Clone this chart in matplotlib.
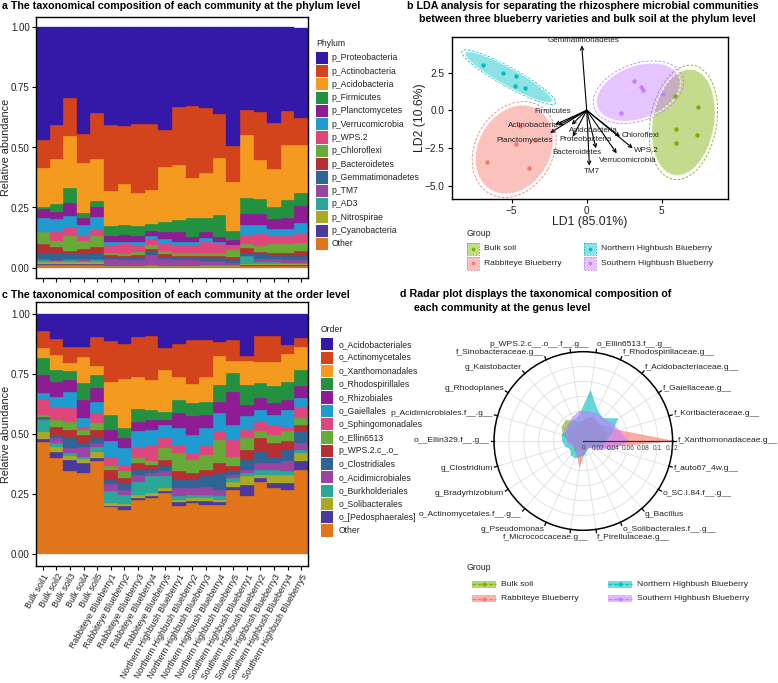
import numpy as np
import matplotlib
matplotlib.use('Agg')
import matplotlib.pyplot as plt
from matplotlib.patches import Rectangle, Ellipse

plt.rcParams['font.family'] = ['Liberation Sans', 'DejaVu Sans']

W, H = 778, 683

# ---------------- data ----------------
samples = ['Bulk soil1', 'Bulk soil2', 'Bulk soil3', 'Bulk soil4', 'Bulk soil5',
           'Rabbiteye Blueberry1', 'Rabbiteye Blueberry2', 'Rabbiteye Blueberry3',
           'Rabbiteye Blueberry4', 'Rabbiteye Blueberry5',
           'Northern Highbush Blueberry1', 'Northern Highbush Blueberry2',
           'Northern Highbush Blueberry3', 'Northern Highbush Blueberry4',
           'Northern Highbush Blueberry5',
           'Southern Highbush Blueberry1', 'Southern Highbush Blueberry2',
           'Southern Highbush Blueberry3', 'Southern Highbush Blueberry4',
           'Southern Highbush Blueberry5']

# phylum level (legend order, top of stack first)
phylum_names = ['p_Proteobacteria', 'p_Actinobacteria', 'p_Acidobacteria', 'p_Firmicutes',
                'p_Planctomycetes', 'p_Verrucomicrobia', 'p_WPS.2', 'p_Chloroflexi',
                'p_Bacteroidetes', 'p_Gemmatimonadetes', 'p_TM7', 'p_AD3',
                'p_Nitrospirae', 'p_Cyanobacteria', 'Other']
p_proteobacteria = [0.469, 0.409, 0.295, 0.445, 0.358, 0.406, 0.41, 0.403, 0.40, 0.427,
                    0.333, 0.327, 0.333, 0.358, 0.492, 0.344, 0.35, 0.397, 0.35, 0.379]
p_actinobacteria = [0.115, 0.139, 0.16, 0.124, 0.19, 0.274, 0.243, 0.287, 0.277, 0.153,
                    0.24, 0.301, 0.272, 0.184, 0.15, 0.107, 0.20, 0.193, 0.14, 0.111]
p_acidobacteria = [0.162, 0.187, 0.222, 0.209, 0.175, 0.149, 0.169, 0.139, 0.141, 0.229,
                   0.229, 0.167, 0.19, 0.239, 0.204, 0.263, 0.164, 0.159, 0.228, 0.201]
p_firmicutes = [0.009, 0.036, 0.062, 0.021, 0.026, 0.038, 0.042, 0.038, 0.029, 0.045,
                0.05, 0.076, 0.055, 0.09, 0.039, 0.067, 0.063, 0.05, 0.077, 0.051]
p_planctomycetes = [0.037, 0.028, 0.053, 0.03, 0.043, 0.025, 0.028, 0.025, 0.02, 0.028,
                    0.04, 0.021, 0.028, 0.021, 0.018, 0.046, 0.045, 0.041, 0.045, 0.071]
p_verrucomicrobia = [0.058, 0.055, 0.048, 0.044, 0.048, 0.014, 0.008, 0.014, 0.014, 0.018,
                     0.014, 0.014, 0.014, 0.008, 0.007, 0.04, 0.038, 0.027, 0.027, 0.047]
p_wps2 = [0.002, 0.036, 0.038, 0.021, 0.03, 0.034, 0.043, 0.028, 0.025, 0.03,
          0.034, 0.034, 0.048, 0.037, 0.017, 0.039, 0.052, 0.033, 0.033, 0.036]
p_chloroflexi = [0.048, 0.025, 0.062, 0.036, 0.045, 0.007, 0.007, 0.014, 0.014, 0.015,
                 0.01, 0.01, 0.01, 0.013, 0.028, 0.019, 0.023, 0.04, 0.04, 0.034]
p_bacteroidetes = [0.04, 0.027, 0.015, 0.02, 0.025, 0.008, 0.008, 0.01, 0.01, 0.01,
                   0.008, 0.01, 0.008, 0.008, 0.01, 0.02, 0.01, 0.01, 0.012, 0.02]
p_gemmatimonadetes = [0.025, 0.028, 0.02, 0.02, 0.025, 0.01, 0.01, 0.01, 0.015, 0.01,
                      0.012, 0.01, 0.012, 0.012, 0.015, 0.01, 0.02, 0.015, 0.018, 0.02]
p_tm7 = [0.005, 0.005, 0.005, 0.01, 0.007, 0.027, 0.024, 0.024, 0.045, 0.027,
         0.022, 0.022, 0.02, 0.02, 0.008, 0.003, 0.01, 0.013, 0.01, 0.01]
p_ad3 = [0.008, 0.005, 0.008, 0.005, 0.008, 0.002, 0.002, 0.002, 0.003, 0.002,
         0.002, 0.002, 0.003, 0.003, 0.004, 0.032, 0.01, 0.007, 0.005, 0.005]
p_nitrospirae = [0.006, 0.006, 0.006, 0.006, 0.006, 0.002, 0.002, 0.002, 0.002, 0.002,
                 0.002, 0.002, 0.002, 0.002, 0.002, 0.005, 0.005, 0.005, 0.005, 0.005]
p_cyanobacteria = [0.004, 0.004, 0.004, 0.004, 0.004, 0.002, 0.002, 0.002, 0.002, 0.002,
                   0.002, 0.002, 0.002, 0.002, 0.002, 0.004, 0.004, 0.004, 0.004, 0.004]
p_other = [0.012, 0.012, 0.012, 0.012, 0.012, 0.002, 0.002, 0.002, 0.002, 0.002,
           0.002, 0.002, 0.002, 0.002, 0.002, 0.006, 0.006, 0.006, 0.006, 0.006]

# order level (legend order, top of stack first)
order_names = ['o_Acidobacteriales', 'o_Actinomycetales', 'o_Xanthomonadales',
               'o_Rhodospirillales', 'o_Rhizobiales', 'o_Gaiellales', 'o_Sphingomonadales',
               'o_Ellin6513', 'p_WPS.2.c_.o_', 'o_Clostridiales', 'o_Acidimicrobiales',
               'o_Burkholderiales', 'o_Solibacterales', 'o_[Pedosphaerales]', 'Other']
o_acidobacteriales = [0.07, 0.104, 0.139, 0.139, 0.094, 0.111, 0.125, 0.094, 0.091, 0.143,
                      0.125, 0.11, 0.11, 0.115, 0.11, 0.175, 0.09, 0.09, 0.129, 0.099]
o_actinomycetales = [0.07, 0.067, 0.066, 0.039, 0.122, 0.171, 0.147, 0.169, 0.184, 0.09,
                     0.136, 0.181, 0.153, 0.06, 0.086, 0.021, 0.11, 0.11, 0.039, 0.037]
o_xanthomonadales = [0.044, 0.062, 0.031, 0.11, 0.038, 0.138, 0.204, 0.134, 0.125, 0.174,
                     0.097, 0.081, 0.102, 0.12, 0.051, 0.099, 0.088, 0.102, 0.114, 0.097]
o_rhodospirillales = [0.07, 0.049, 0.038, 0.07, 0.056, 0.063, 0.041, 0.055, 0.041, 0.034,
                      0.055, 0.055, 0.055, 0.07, 0.076, 0.083, 0.062, 0.07, 0.076, 0.067]
o_rhizobiales = [0.076, 0.062, 0.049, 0.076, 0.055, 0.048, 0.042, 0.037, 0.042, 0.021,
                 0.063, 0.076, 0.056, 0.048, 0.139, 0.049, 0.049, 0.048, 0.041, 0.051]
o_gaiellales = [0.025, 0.042, 0.07, 0.035, 0.048, 0.063, 0.069, 0.07, 0.062, 0.055,
                0.069, 0.077, 0.076, 0.076, 0.062, 0.056, 0.049, 0.042, 0.07, 0.035]
o_sphingomonadales = [0.065, 0.055, 0.055, 0.014, 0.042, 0.039, 0.028, 0.041, 0.069, 0.042,
                      0.035, 0.028, 0.035, 0.035, 0.07, 0.034, 0.041, 0.041, 0.02, 0.048]
o_ellin6513 = [0.008, 0.028, 0.035, 0.02, 0.028, 0.019, 0.028, 0.022, 0.014, 0.048,
               0.076, 0.055, 0.062, 0.098, 0.041, 0.049, 0.028, 0.035, 0.042, 0.028]
o_wps2 = [0.006, 0.034, 0.034, 0.035, 0.034, 0.039, 0.021, 0.027, 0.021, 0.025,
          0.035, 0.028, 0.028, 0.041, 0.02, 0.041, 0.056, 0.056, 0.035, 0.027]
o_clostridiales = [0.004, 0.014, 0.042, 0.017, 0.021, 0.017, 0.028, 0.021, 0.014, 0.024,
                   0.035, 0.035, 0.042, 0.07, 0.015, 0.042, 0.049, 0.028, 0.048, 0.049]
o_acidimicrobiales = [0.003, 0.021, 0.021, 0.039, 0.017, 0.031, 0.02, 0.028, 0.014, 0.021,
                      0.034, 0.027, 0.034, 0.027, 0.014, 0.014, 0.027, 0.027, 0.042, 0.028]
o_burkholderiales = [0.049, 0.017, 0.011, 0.011, 0.018, 0.049, 0.038, 0.055, 0.069, 0.048,
                     0.014, 0.014, 0.014, 0.014, 0.016, 0.014, 0.021, 0.021, 0.014, 0.014]
o_solibacterales = [0.03, 0.018, 0.017, 0.017, 0.027, 0.01, 0.008, 0.014, 0.014, 0.014,
                    0.011, 0.011, 0.013, 0.011, 0.019, 0.035, 0.014, 0.035, 0.035, 0.034]
o_pedosphaerales = [0.014, 0.027, 0.048, 0.041, 0.014, 0.007, 0.016, 0.007, 0.007, 0.007,
                    0.015, 0.01, 0.015, 0.01, 0.014, 0.048, 0.014, 0.021, 0.028, 0.035]
o_other = [0.466, 0.40, 0.344, 0.337, 0.386, 0.195, 0.185, 0.226, 0.233, 0.254,
           0.20, 0.212, 0.205, 0.205, 0.267, 0.24, 0.302, 0.274, 0.267, 0.351]

taxa_colors = ['#3418A8', '#D4441C', '#F39A1F', '#23913F', '#8E1C94', '#1F9BD0', '#DF467C',
               '#66AB38', '#B82F33', '#2F6496', '#9A45A2', '#2BA79A', '#ABA923', '#4B3A9E',
               '#E0751A']

# LDA
groups = ['Bulk soil', 'Rabbiteye Blueberry', 'Northern Highbush Blueberry',
          'Southern Highbush Blueberry']
group_colors = ['#7CAE00', '#F8766D', '#00BFC4', '#C77CFF']
bulk_ld1 = [5.89, 7.40, 5.93, 7.33, 5.93]
bulk_ld2 = [0.95, 0.24, -1.26, -1.66, -2.19]
rabbit_ld1 = [-4.71, -6.62, -3.82, -4.45, -3.45]
rabbit_ld2 = [-2.23, -3.45, -3.80, -1.05, -1.95]
northern_ld1 = [-6.93, -5.56, -4.71, -4.76, -4.11]
northern_ld2 = [3.00, 2.50, 2.28, 1.62, 1.46]
southern_ld1 = [3.16, 3.60, 3.78, 5.11, 2.27]
southern_ld2 = [1.97, 1.57, 1.35, 1.08, -0.15]
loading_names = ['Gemmatimonadetes', 'Firmicutes', 'Actinobacteria', 'Planctomycetes',
                 'Acidobacteria', 'Proteobacteria', 'Bacteroidetes', 'TM7',
                 'Verrucomicrobia', 'Chloroflexi', 'WPS.2']
loading_ld1 = [-0.33, -1.90, -2.10, -2.44, -1.00, -0.93, 0.62, 0.18, 2.00, 2.22, 3.07]
loading_ld2 = [4.30, -1.00, -0.95, -1.50, -0.95, -1.75, -2.52, -3.67, -2.85, -1.75, -2.52]

# radar (genus level)
genera = ['f_Xanthomonadaceae.g__', 'f_Koribacteraceae.g__', 'f_Gaiellaceae.g__',
          'f_Acidobacteriaceae.g__', 'f_Rhodospirillaceae.g__', 'o_Ellin6513.f__.g__',
          'p_WPS.2.c__.o__.f__.g__', 'f_Sinobacteraceae.g__', 'g_Kaistobacter',
          'g_Rhodoplanes', 'p_Acidimicrobiales.f__.g__', 'o__Ellin329.f__.g__',
          'g_Clostridium', 'g_Bradyrhizobium', 'o_Actinomycetales.f__.g__', 'g_Pseudomonas',
          'f_Micrococcaceae.g__', 'f_Pirellulaceae.g__', 'o_Solibacterales.f__.g__',
          'g_Bacillus', 'o_SC.I.84.f__.g__', 'f_auto67_4w.g__']
radar_bulk = [0.030, 0.035, 0.030, 0.030, 0.035, 0.030, 0.025, 0.030, 0.036, 0.034, 0.028,
              0.020, 0.015, 0.015, 0.018, 0.015, 0.010, 0.010, 0.010, 0.010, 0.012, 0.020]
radar_rabbit = [0.120, 0.050, 0.035, 0.030, 0.035, 0.030, 0.025, 0.020, 0.020, 0.025, 0.020,
                0.018, 0.015, 0.012, 0.015, 0.020, 0.035, 0.015, 0.012, 0.010, 0.015, 0.030]
radar_northern = [0.030, 0.040, 0.055, 0.040, 0.045, 0.068, 0.035, 0.030, 0.030, 0.025, 0.030,
                  0.028, 0.025, 0.020, 0.025, 0.025, 0.020, 0.018, 0.012, 0.012, 0.015, 0.025]
radar_southern = [0.060, 0.050, 0.045, 0.040, 0.040, 0.040, 0.040, 0.035, 0.030, 0.030, 0.025,
                  0.022, 0.018, 0.015, 0.015, 0.020, 0.018, 0.015, 0.012, 0.012, 0.018, 0.040]
radar_ticks = [0, 0.02, 0.04, 0.06, 0.08, 0.1, 0.12]

# ---------------- figure ----------------
fig = plt.figure(figsize=(W / 100, H / 100), dpi=100)


def add_ax(l, t, r, b, **kw):
    return fig.add_axes([l / W, 1 - b / H, (r - l) / W, (b - t) / H], **kw)


ov = fig.add_axes([0, 0, 1, 1], zorder=10)
ov.set_xlim(0, W)
ov.set_ylim(H, 0)
ov.axis('off')

TICK_FS = 7.0
TITLE_FS = 7.7
TXT = '#222222'


def stacked(ax, layers_top_first, ymin, ymax):
    arr = np.array(layers_top_first, dtype=float)
    tot = arr.sum(axis=0)
    xs = np.arange(arr.shape[1])
    cum = np.zeros(arr.shape[1])
    for vals, col in zip(arr[::-1], taxa_colors[::-1]):
        v = vals / tot
        ax.bar(xs, v, bottom=cum, width=1.0, color=col, edgecolor=col, linewidth=0.25)
        cum += v
    ax.set_xlim(-0.5, arr.shape[1] - 0.5)
    ax.set_ylim(ymin, ymax)
    ax.set_yticks([0, 0.25, 0.5, 0.75, 1.0])
    ax.set_yticklabels(['0.00', '0.25', '0.50', '0.75', '1.00'])
    ax.set_xticks(xs)
    ax.tick_params(length=3, width=0.8, labelsize=TICK_FS, labelcolor=TXT, pad=1.5)
    for s in ax.spines.values():
        s.set_linewidth(1.0)
    return xs


def legend_block(title, names, key_left, title_y, first_y, text_x):
    ov.text(key_left, title_y, title, fontsize=6.2, va='center', ha='left', color=TXT)
    for i, (n, c) in enumerate(zip(names, taxa_colors)):
        y = first_y + i * 13.3
        ov.add_patch(Rectangle((key_left, y - 6.1), 12.2, 12.2, facecolor=c, edgecolor='none'))
        ov.text(text_x, y, n, fontsize=6.2, va='center', ha='left', color=TXT)


# panel a
ax_a = add_ax(36, 16.7, 308, 278.3)
xs = stacked(ax_a, [p_proteobacteria, p_actinobacteria, p_acidobacteria, p_firmicutes,
                    p_planctomycetes, p_verrucomicrobia, p_wps2, p_chloroflexi,
                    p_bacteroidetes, p_gemmatimonadetes, p_tm7, p_ad3, p_nitrospirae,
                    p_cyanobacteria, p_other], -0.045, 1.045)
ax_a.set_xticklabels([])
ov.text(2, 6, 'a The taxonomical composition of each community at the phylum level',
        fontsize=TITLE_FS, fontweight='bold', va='center', ha='left')
ov.text(6, 147, 'Relative abundance', fontsize=7.8, rotation=90, va='center', ha='center',
        color=TXT)
legend_block('Phylum', phylum_names, 316, 43, 57.7, 331.7)

# panel c
ax_c = add_ax(36, 302, 308, 566)
stacked(ax_c, [o_acidobacteriales, o_actinomycetales, o_xanthomonadales, o_rhodospirillales,
               o_rhizobiales, o_gaiellales, o_sphingomonadales, o_ellin6513, o_wps2,
               o_clostridiales, o_acidimicrobiales, o_burkholderiales, o_solibacterales,
               o_pedosphaerales, o_other], -0.05, 1.05)
ax_c.set_xticklabels(samples, rotation=60, ha='right', va='top', rotation_mode='anchor',
                     fontsize=6.35)
ax_c.tick_params(axis='x', pad=1.5)
ov.text(2, 294.5, 'c The taxonomical composition of each community at the order level',
        fontsize=TITLE_FS, fontweight='bold', va='center', ha='left')
ov.text(6, 434, 'Relative abundance', fontsize=7.8, rotation=90, va='center', ha='center',
        color=TXT)
legend_block('Order', order_names, 321, 330, 344.3, 338.3)

# panel b
ax_b = add_ax(451.7, 37.3, 728.3, 199.3)
ax_b.set_xlim(-9.0, 9.44)
ax_b.set_ylim(-5.9, 4.84)
ell_b = {'Bulk soil': ((6.45, -0.8), 4.1, 7.1, -10),
         'Rabbiteye Blueberry': ((-4.83, -2.6), 6.2, 4.8, 60),
         'Northern Highbush Blueberry': ((-5.2, 2.2), 6.6, 1.16, -29),
         'Southern Highbush Blueberry': ((3.45, 1.2), 5.8, 3.5, 20)}
pts = {'Bulk soil': (bulk_ld1, bulk_ld2),
       'Rabbiteye Blueberry': (rabbit_ld1, rabbit_ld2),
       'Northern Highbush Blueberry': (northern_ld1, northern_ld2),
       'Southern Highbush Blueberry': (southern_ld1, southern_ld2)}
for g, c in zip(groups, group_colors):
    (cxy, w, h, ang) = ell_b[g]
    ax_b.add_patch(Ellipse(cxy, w * 1.08, h * 1.08, angle=ang, facecolor='none',
                           edgecolor=c, linestyle=(0, (3, 2)), linewidth=0.6, zorder=1))
    ax_b.add_patch(Ellipse(cxy, w, h, angle=ang, facecolor=c, alpha=0.45,
                           edgecolor='none', zorder=1))
    ax_b.add_patch(Ellipse(cxy, w, h, angle=ang, facecolor='none', edgecolor='white',
                           linewidth=0.6, linestyle=(0, (3, 2)), zorder=1.5))
for g, c in zip(groups, group_colors):
    ax_b.scatter(pts[g][0], pts[g][1], s=10, color=c, zorder=3, linewidths=0)
label_pos = [(-0.2, 4.6), (-2.3, -0.1), (-3.55, -1.04), (-4.16, -1.97), (0.44, -1.35),
             (-0.1, -1.92), (-0.67, -2.81), (0.31, -4.09), (2.71, -3.34), (3.6, -1.7),
             (4.0, -2.65)]
for n, lx, ly, (tx, ty) in zip(loading_names, loading_ld1, loading_ld2, label_pos):
    ax_b.annotate('', xy=(lx, ly), xytext=(0, 0),
                  arrowprops=dict(arrowstyle='->', lw=0.8, color='black',
                                  mutation_scale=6, shrinkA=0, shrinkB=0), zorder=4)
    ax_b.text(tx, ty, n, fontsize=5.8, ha='center', va='center', color=TXT, zorder=5)
ax_b.set_xticks([-5, 0, 5])
ax_b.set_xticklabels(['\u22125', '0', '5'])
ax_b.set_yticks([-5, -2.5, 0, 2.5])
ax_b.set_yticklabels(['\u22125.0', '\u22122.5', '0.0', '2.5'])
ax_b.tick_params(length=3, width=0.8, labelsize=7.2, labelcolor=TXT, pad=2)
for s in ax_b.spines.values():
    s.set_linewidth(1.0)
ov.text(583, 6, 'b LDA analysis for separating the rhizosphere microbial communities',
        fontsize=TITLE_FS, fontweight='bold', va='center', ha='center')
ov.text(587, 19.5, 'between three blueberry varieties and bulk soil at the phylum level',
        fontsize=TITLE_FS, fontweight='bold', va='center', ha='center')
ov.text(590, 221.7, 'LD1 (85.01%)', fontsize=8.8, va='center', ha='center', color=TXT)
ov.text(420.5, 118, 'LD2 (10.6%)', fontsize=8.8, rotation=90, va='center', ha='center',
        color=TXT)
# legend b
ov.text(467, 233.3, 'Group', fontsize=6.3, va='center', ha='left', color=TXT)
leg_pos = [(473, 248.8), (473, 263.3), (590, 248.8), (590, 263.3)]
for (kx, ky), g, c in zip(leg_pos, groups, group_colors):
    ov.add_patch(Rectangle((kx - 6.3, ky - 6.3), 12.6, 12.6, facecolor=c, alpha=0.45,
                           edgecolor='none'))
    ov.add_patch(Rectangle((kx - 6.3, ky - 6.3), 12.6, 12.6, facecolor='none', edgecolor=c,
                           linestyle=(0, (2, 1.5)), linewidth=0.6))
    ov.scatter([kx], [ky], s=7, color=c, linewidths=0)
    ov.text(kx + 11, ky, g, fontsize=6.1, va='center', ha='left', color=TXT)

# panel d radar
cx, cy, R = 583.3, 441.0, 89.3
ax_d = add_ax(cx - R, cy - R, cx + R, cy + R, projection='polar')
ax_d.set_ylim(0, 0.12)
ax_d.set_xticks([])
ax_d.set_yticks([])
ax_d.grid(False)
ax_d.spines['polar'].set_linewidth(1.1)
nG = len(genera)
angs = np.arange(nG) * 2 * np.pi / nG
tt = np.linspace(0, 2 * np.pi, 300)
for r in radar_ticks[1:-1]:
    ax_d.plot(tt, np.full_like(tt, r), color='#D9D9D9', lw=0.5, zorder=0.5)
for a in angs:
    ax_d.plot([a, a], [0, 0.12], color='#D9D9D9', lw=0.5, zorder=0.5)
    ax_d.plot([a, a], [0.12, 0.1245], color='black', lw=0.9, clip_on=False, zorder=6)
for vals, c in zip([radar_bulk, radar_rabbit, radar_northern, radar_southern], group_colors):
    th = np.r_[angs, angs[0]]
    rv = np.r_[vals, vals[0]]
    ax_d.fill(th, rv, color=c, alpha=0.6, lw=0, zorder=2)
    ax_d.plot(th, rv, color=c, lw=0.4, alpha=0.7, zorder=2)
ax_d.plot([0, 0], [0, 0.12], color='#333333', lw=0.9, zorder=5)
for v in radar_ticks:
    ov.text(cx + v / 0.12 * R, cy + 7, ('%g' % v), fontsize=4.8, ha='center', va='center',
            color='#444444')
for a, name in zip(angs, genera):
    ca, sa = np.cos(a), np.sin(a)
    x = cx + (R + 5) * ca
    y = cy - (R + 8.5) * sa
    if ca > 0.05:
        ha = 'left'
    elif ca < -0.05:
        ha = 'right'
        if ca > -0.2:
            x += 19
    else:
        ha = 'center'
    ov.text(x, y, name, fontsize=6.1, ha=ha, va='center', color=TXT)
ov.text(400, 294, 'd Radar plot displays the taxonomical composition of',
        fontsize=TITLE_FS, fontweight='bold', va='center', ha='left')
ov.text(414, 308, 'each community at the genus level',
        fontsize=TITLE_FS, fontweight='bold', va='center', ha='left')
# legend d
ov.text(467, 567.7, 'Group', fontsize=6.3, va='center', ha='left', color=TXT)
leg_d = [(484, 584.3), (484, 598.5), (620, 584.3), (620, 598.5)]
for (kx, ky), g, c in zip(leg_d, groups, group_colors):
    ov.add_patch(Rectangle((kx - 12, ky - 3.4), 24, 6.8, facecolor=c, alpha=0.55,
                           edgecolor='none'))
    ov.plot([kx - 12, kx + 12], [ky, ky], color=c, lw=0.9, linestyle=(0, (3, 1.5)))
    ov.scatter([kx], [ky], s=8, color=c, linewidths=0)
    ov.text(kx + 17, ky, g, fontsize=6.1, va='center', ha='left', color=TXT)

fig.savefig('out.png', dpi=100)
